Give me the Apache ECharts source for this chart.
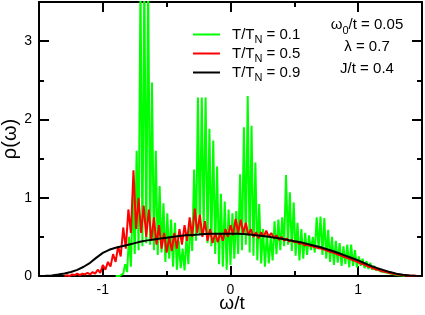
<!DOCTYPE html>
<html>
<head>
<meta charset="utf-8">
<script src="https://cdn.jsdelivr.net/npm/echarts@6/dist/echarts.min.js"></script>
<style>html,body{margin:0;padding:0;background:#fff}#c{width:425px;height:315px}</style>
</head>
<body>
<div id="c"></div>
<script>
// ---- data ----
const seriesNames = ['0.1', '0.5', '0.9'];
const xMajorTicks = [-1, 0, 1];
const xMinorTicks = [-0.5, 0.5];
const yMajorTicks = [0, 1, 2, 3];
const yMinorTicks = [0.5, 1.5, 2.5];

// T/TN = 0.1 : omega from -0.9, step 0.015
const greenStart = -0.9, greenStep = 0.015;
const greenRho = [
0.00,0.01,0.00,0.02,0.03,0.15,0.05,0.50,0.12,1.02,
0.28,1.60,0.33,3.80,0.38,3.80,0.42,3.80,0.40,2.47,
0.33,1.60,0.27,1.15,0.30,0.93,0.18,0.80,0.22,0.72,
0.12,0.68,0.08,0.45,0.10,0.35,0.07,0.50,0.15,0.70,
0.32,1.36,0.45,2.28,0.52,2.28,0.60,2.28,0.42,1.88,
0.38,1.73,0.28,1.40,0.15,1.05,0.12,0.95,0.08,0.85,
0.14,0.80,0.22,0.83,0.28,1.30,0.33,1.90,0.40,2.30,
0.30,1.92,0.26,1.45,0.20,0.92,0.16,0.60,0.12,0.55,
0.16,0.50,0.20,0.70,0.28,0.72,0.33,0.75,0.38,1.29,
0.40,1.07,0.32,0.94,0.26,0.68,0.20,0.60,0.22,0.55,
0.27,0.52,0.33,0.50,0.30,0.75,0.34,0.76,0.27,0.74,
0.22,0.59,0.18,0.50,0.14,0.45,0.17,0.42,0.13,0.38,
0.15,0.40,0.11,0.40,0.13,0.33,0.11,0.25,0.13,0.22,
0.10,0.19,0.09,0.17,0.08,0.13,0.07,0.10,0.06,0.08,
0.05,0.06,0.04,0.045,0.03,0.03,0.02,0.02,0.01,0.01,
0.005,0.0
];

// T/TN = 0.5 : omega from -1.3, step 0.02
const redStart = -1.3, redStep = 0.02;
const redRho = [
0.00,0.01,0.00,0.02,0.01,0.03,0.01,0.03,0.02,0.04,0.02,0.05,0.03,0.08,0.04,
0.14,0.08,0.18,0.12,0.28,0.18,0.38,0.25,0.62,0.35,
0.85,0.55,1.35,0.60,1.00,0.55,0.90,0.50,0.85,0.45,
0.75,0.40,0.65,0.35,0.55,0.30,0.50,0.32,0.55,0.35,
0.60,0.40,0.65,0.45,0.75,0.50,0.86,0.55,0.78,0.50,
0.70,0.45,0.60,0.42,0.55,0.43,0.55,0.45,0.60,0.50,
0.65,0.52,0.73,0.55,0.72,0.55,0.68,0.52,0.60,0.50,
0.56,0.48,0.56,0.50,0.58,0.50,0.55,0.48,0.52,0.46,
0.50,0.45,0.48,0.44,0.46,0.43,0.44,0.41,0.42,0.39,
0.40,0.385,0.38,0.37,0.36,0.355,0.345,0.335,0.32,0.31,
0.30,0.29,0.275,0.265,0.25,0.24,0.225,0.215,0.20,0.19,
0.175,0.16,0.15,0.135,0.12,0.11,0.095,0.085,0.075,0.065,
0.058,0.05,0.042,0.035,0.028,0.022,0.017,0.013,0.01,0.007,
0.005,0.003,0.002,0.001,0.0,0.0
];

// T/TN = 0.9 : omega from -1.5, step 0.05
const blackStart = -1.5, blackStep = 0.05;
const blackRho = [
0.0,0.002,0.008,0.018,0.032,0.052,0.078,0.118,0.168,0.235,
0.295,0.335,0.36,0.38,0.40,0.42,0.44,0.455,0.467,0.478,
0.49,0.50,0.51,0.52,0.525,0.53,0.535,0.54,0.54,0.54,
0.54,0.54,0.535,0.53,0.52,0.51,0.50,0.49,0.475,0.46,
0.445,0.43,0.41,0.39,0.37,0.345,0.32,0.29,0.26,0.23,
0.20,0.165,0.13,0.10,0.075,0.05,0.03,0.017,0.008,0.003,
0.0
];

// ---- chart ----
function pairs(start, step, vals) {
  return vals.map((v, i) => [+(start + step * i).toFixed(4), v]);
}
const FONT = '"Liberation Sans", Arial, Helvetica, sans-serif';
const chart = echarts.init(document.getElementById('c'), null, {renderer: 'canvas'});

function xAx(position, ticks, len, showLine, labels) {
  return {
    type: 'value', min: -1.5, max: 1.5, position: position,
    axisLine: {show: showLine, onZero: false, lineStyle: {color: '#000', width: 2}},
    axisTick: {show: true, inside: true, length: len, customValues: ticks, lineStyle: {color: '#000', width: 2}},
    axisLabel: labels ? {show: true, customValues: ticks, color: '#000', fontSize: 14, fontFamily: FONT, margin: 7,
      formatter: v => String(v)} : {show: false},
    splitLine: {show: false}
  };
}
function yAx(position, ticks, len, showLine, labels) {
  return {
    type: 'value', min: 0, max: 3.5, position: position,
    axisLine: {show: showLine, onZero: false, lineStyle: {color: '#000', width: 2}},
    axisTick: {show: true, inside: true, length: len, customValues: ticks, lineStyle: {color: '#000', width: 2}},
    axisLabel: labels ? {show: true, customValues: ticks, color: '#000', fontSize: 14, fontFamily: FONT, margin: 7,
      formatter: v => String(v)} : {show: false},
    splitLine: {show: false}
  };
}

const richLegend = {
  m: {fontSize: 15, fontFamily: FONT, color: '#000', lineHeight: 22, verticalAlign: 'middle'},
  s: {fontSize: 11, fontFamily: FONT, color: '#000', lineHeight: 11, verticalAlign: 'bottom'}
};

const colors = ['#00ff00', '#ff0000', '#000000'];
const datasets = [pairs(greenStart, greenStep, greenRho), pairs(redStart, redStep, redRho), pairs(blackStart, blackStep, blackRho)];

chart.setOption({
  animation: false,
  grid: {left: 39, right: 3, top: 2, bottom: 39, containLabel: false},
  xAxis: [
    xAx('bottom', xMajorTicks, 10, true, true),
    xAx('bottom', xMinorTicks, 5, false, false),
    xAx('top', xMajorTicks, 10, true, false),
    xAx('top', xMinorTicks, 5, false, false)
  ],
  yAxis: [
    yAx('left', yMajorTicks, 10, true, true),
    yAx('left', yMinorTicks, 5, false, false),
    yAx('right', yMajorTicks, 10, true, false),
    yAx('right', yMinorTicks, 5, false, false)
  ],
  legend: {
    orient: 'vertical', left: 193, top: 27, itemWidth: 27, itemHeight: 2, itemGap: 0.5,
    padding: 0, icon: 'rect',
    data: seriesNames.map(n => 'T/TN = ' + n),
    formatter: name => '{m|T/T}{s|N}{m| = ' + name.split('= ')[1] + '}',
    textStyle: {rich: richLegend, padding: [0, 0, 0, 7]}
  },
  series: seriesNames.map((n, k) => ({
    name: 'T/TN = ' + n,
    type: 'line',
    xAxisIndex: 0, yAxisIndex: 0,
    symbol: 'none',
    data: datasets[k],
    lineStyle: {color: colors[k], width: 2},
    itemStyle: {color: colors[k]},
    clip: true,
    z: 2 + k
  })),
  graphic: [
    {type: 'text', x: 367, y: 25, style: {text: '{m|ω}{s|0}{m|/t = 0.05}', align: 'center', verticalAlign: 'middle', rich: richLegend}},
    {type: 'text', x: 367, y: 47, style: {text: 'λ = 0.7', align: 'center', verticalAlign: 'middle', font: '15px ' + FONT, fill: '#000'}},
    {type: 'text', x: 367, y: 69, style: {text: 'J/t = 0.4', align: 'center', verticalAlign: 'middle', font: '15px ' + FONT, fill: '#000'}},
    {type: 'text', x: 10, y: 139, rotation: Math.PI / 2, style: {text: 'ρ(ω)', align: 'center', verticalAlign: 'middle', font: '20px ' + FONT, fill: '#000'}},
    {type: 'text', x: 232, y: 304, style: {text: 'ω/t', align: 'center', verticalAlign: 'middle', font: '19px ' + FONT, fill: '#000'}}
  ]
});
</script>
</body>
</html>
